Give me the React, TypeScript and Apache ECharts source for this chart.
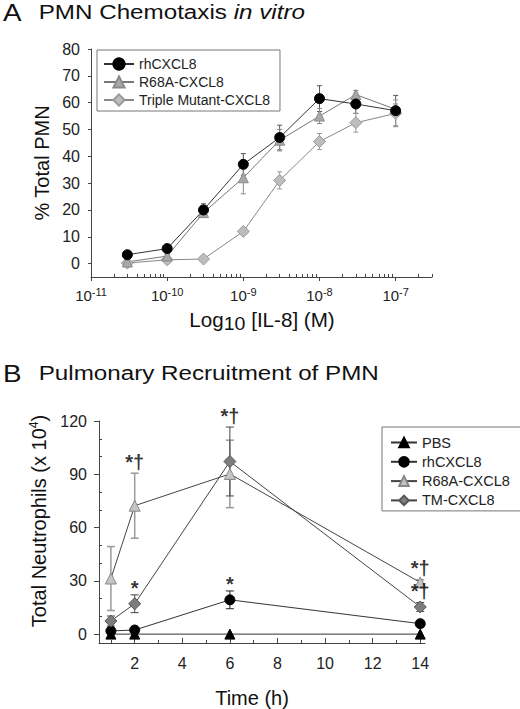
import { useEffect, useRef } from 'react';
import * as echarts from 'echarts';

const FONT = '"Liberation Sans", Arial, Helvetica, sans-serif';

// Panel A: chemotaxis vs concentration (M)
const concA = [3e-11, 1e-10, 3e-10, 1e-9, 3e-9, 1e-8, 3e-8, 1e-7];
const rhA = [3.3, 5.6, 20, 37, 47, 61.5, 59.5, 57];
const rhAErr = [0.8, 0.8, 2.3, 4, 4.6, 4.8, 3.5, 5.7];
const r68A = [0.6, 2.8, 19, 32, 46, 55, 63, 57.5];
const r68AErr = [0.5, 0.6, 1, 6, 4, 2.8, 1.5, 2];
const tmA = [0.2, 1.4, 1.7, 12, 31, 45.5, 52.5, 56];
const tmAErr = [0.4, 0.5, 0.5, 1, 3.2, 3, 3.5, 5];
const yTicksA = [0, 10, 20, 30, 40, 50, 60, 70, 80];
const xExpA = [-11, -10, -9, -8, -7];

// Panel B: pulmonary recruitment over time (h)
const hoursB = [1, 2, 6, 14];
const pbsB = [0, 0, 0, 0];
const rhB = [1.8, 2.3, 19.3, 5.9];
const rhBErr = [1, 1, 5, 1];
const r68B = [31.3, 72.3, 90.2, 29.1];
const r68BErr = [18, 18.3, 19, 1.5];
const tmB = [7.4, 17.1, 97.2, 15.3];
const tmBErr = [2.8, 5, 19.4, 2.5];
const yTicksB = [0, 30, 60, 90, 120];
const yMinorB = [10, 20, 40, 50, 70, 80, 100, 110];
const xTicksB = [2, 4, 6, 8, 10, 12, 14];
const xMinorB = [1, 3, 5, 7, 9, 11, 13];
const annoX = [2, 2, 6, 6, 14, 14];
const annoY = [90.3, 22.1, 116.6, 24.3, 30.6, 17.8];
const annoText = ['*†', '*', '*†', '*', '*†', '*†'];

function minorLogTicks(): number[] {
  const out: number[] = [];
  for (let n = -11; n <= -7; n++) {
    for (let k = 2; k <= 9; k++) {
      const v = Math.log10(k) + n;
      if (v <= Math.log10(3e-7) + 1e-9) out.push(v);
    }
  }
  return out;
}

function errorSeries(
  xs: number[], vals: number[], errs: number[], color: string,
  xAxisIndex: number, yAxisIndex: number, cap: number, lw: number
): any {
  return {
    type: 'custom',
    xAxisIndex,
    yAxisIndex,
    z: 1,
    silent: true,
    encode: { x: 0, y: [1, 2] },
    data: xs.map((x, i) => [x, vals[i] - errs[i], vals[i] + errs[i]]),
    renderItem: (params: any, api: any) => {
      const top = api.coord([api.value(0), api.value(2)]);
      const bot = api.coord([api.value(0), api.value(1)]);
      const st = { stroke: color, lineWidth: lw };
      return {
        type: 'group',
        children: [
          { type: 'line', shape: { x1: top[0], y1: top[1], x2: bot[0], y2: bot[1] }, style: st },
          { type: 'line', shape: { x1: top[0] - cap, y1: top[1], x2: top[0] + cap, y2: top[1] }, style: st },
          { type: 'line', shape: { x1: bot[0] - cap, y1: bot[1], x2: bot[0] + cap, y2: bot[1] }, style: st }
        ]
      };
    }
  };
}

function lineSeries(
  name: string, xs: number[], vals: number[], symbol: string, size: number,
  fill: string, border: string, lineColor: string, xAxisIndex: number, yAxisIndex: number
): any {
  return {
    name,
    type: 'line',
    xAxisIndex,
    yAxisIndex,
    z: 3,
    symbol,
    symbolSize: size,
    showAllSymbol: true,
    data: xs.map((x, i) => [x, vals[i]]),
    lineStyle: { color: lineColor, width: 1 },
    itemStyle: { color: fill, borderColor: border, borderWidth: 1 }
  };
}

function buildOption(): echarts.EChartsOption {
  const AXIS = '#444';
  const xA = concA.map((c) => Math.log10(c));
  const labelStyle = { fontFamily: FONT, fontSize: 16, color: '#222' };

  return {
    animation: false,
    textStyle: { fontFamily: FONT },
    grid: [
      { left: 91, top: 49, width: 341, height: 228 },
      { left: 99, top: 421, width: 326, height: 226 }
    ],
    graphic: [
      {
        type: 'text', x: 3, y: 1, scaleX: 1.21,
        style: {
          text: '{l|A}{g|   }{t|PMN Chemotaxis }{i|in vitro}',
          rich: {
            l: { fontFamily: FONT, fontSize: 23, fill: '#111' },
            g: { fontFamily: FONT, fontSize: 17, fill: '#111' },
            t: { fontFamily: FONT, fontSize: 20, fill: '#111' },
            i: { fontFamily: FONT, fontSize: 20, fontStyle: 'italic', fill: '#111' }
          }
        }
      },
      {
        type: 'text', x: 3, y: 362, scaleX: 1.21,
        style: {
          text: '{l|B}{g|   }{t|Pulmonary Recruitment of PMN}',
          rich: {
            l: { fontFamily: FONT, fontSize: 23, fill: '#111' },
            g: { fontFamily: FONT, fontSize: 17, fill: '#111' },
            t: { fontFamily: FONT, fontSize: 20, fill: '#111' }
          }
        }
      },
      {
        type: 'text', x: 42, y: 163, rotation: Math.PI / 2,
        style: {
          text: '% Total PMN', align: 'center', verticalAlign: 'middle',
          fontFamily: FONT, fontSize: 20, fill: '#111'
        }
      },
      {
        type: 'text', x: 262, y: 320, scaleX: 1.03,
        style: {
          text: '{n|Log}{d|10}{n| [IL-8] (M)}', align: 'center', verticalAlign: 'middle',
          rich: {
            n: { fontFamily: FONT, fontSize: 20, fill: '#111' },
            d: { fontFamily: FONT, fontSize: 19, fill: '#111', padding: [8, 0, 0, 0] }
          }
        }
      }
    ],
    legend: [
      {
        data: ['rhCXCL8', 'R68A-CXCL8', 'Triple Mutant-CXCL8'],
        orient: 'vertical', left: 97, top: 50,
        itemWidth: 30, itemHeight: 14, itemGap: 4,
        padding: [7, 10, 4, 6],
        borderColor: '#777', borderWidth: 1,
        textStyle: { fontFamily: FONT, fontSize: 14, color: '#222' }
      },
      {
        data: ['PBS', 'rhCXCL8 ', 'R68A-CXCL8 ', 'TM-CXCL8'],
        orient: 'vertical', left: 382, top: 427,
        itemWidth: 26, itemHeight: 12, itemGap: 4.3,
        padding: [8, 8, 3, 8],
        borderColor: '#777', borderWidth: 1,
        textStyle: { fontFamily: FONT, fontSize: 14.5, color: '#222' }
      }
    ],
    xAxis: [
      {
        type: 'value', gridIndex: 0, min: -11, max: Math.log10(3e-7), position: 'bottom',
        axisLine: { onZero: false, lineStyle: { color: AXIS } },
        axisTick: { customValues: xExpA, length: 4, lineStyle: { color: AXIS } },
        splitLine: { show: false },
        axisLabel: {
          customValues: xExpA, margin: 9,
          formatter: (v: number) => `{b|10}{s|${Math.round(v)}}`,
          rich: {
            b: { ...labelStyle, fontSize: 15 },
            s: { ...labelStyle, fontSize: 11, padding: [0, 0, 8, 0] }
          }
        }
      },
      {
        type: 'value', gridIndex: 0, min: -11, max: Math.log10(3e-7), position: 'bottom',
        axisLine: { show: false, onZero: false },
        axisTick: { customValues: minorLogTicks(), inside: true, length: 3, lineStyle: { color: AXIS } },
        axisLabel: { show: false },
        splitLine: { show: false }
      },
      {
        type: 'value', gridIndex: 1, min: 0.5, max: 14.2, position: 'bottom',
        axisLine: { onZero: false, lineStyle: { color: AXIS } },
        axisTick: { customValues: xTicksB, inside: true, length: 5, lineStyle: { color: AXIS } },
        splitLine: { show: false },
        axisLabel: { customValues: xTicksB, margin: 12, ...labelStyle },
        name: 'Time (h)', nameLocation: 'middle', nameGap: 45,
        nameTextStyle: { fontFamily: FONT, fontSize: 20, color: '#111', padding: [0, 20, 0, 0] }
      },
      {
        type: 'value', gridIndex: 1, min: 0.5, max: 14.2, position: 'bottom',
        axisLine: { show: false, onZero: false },
        axisTick: { customValues: xMinorB, inside: true, length: 3, lineStyle: { color: AXIS } },
        axisLabel: { show: false },
        splitLine: { show: false }
      }
    ],
    yAxis: [
      {
        type: 'value', gridIndex: 0, min: -5, max: 80, position: 'left',
        axisLine: { show: true, onZero: false, lineStyle: { color: AXIS } },
        axisTick: { show: true, customValues: yTicksA, length: 3, lineStyle: { color: AXIS } },
        splitLine: { show: false },
        axisLabel: { customValues: yTicksA, margin: 11, ...labelStyle }
      },
      {
        type: 'value', gridIndex: 1, min: -5, max: 120, position: 'left',
        axisLine: { show: true, onZero: false, lineStyle: { color: AXIS } },
        axisTick: { show: true, customValues: yTicksB, length: 5, lineStyle: { color: AXIS } },
        splitLine: { show: false },
        axisLabel: { customValues: yTicksB, margin: 12, ...labelStyle },
        name: '{n|Total Neutrophils (x 10}{s|4}{n|)}', nameLocation: 'middle', nameGap: 47,
        nameTextStyle: {
          padding: [0, 0, 0, 22],
          rich: {
            n: { fontFamily: FONT, fontSize: 20, color: '#111' },
            s: { fontFamily: FONT, fontSize: 12, color: '#111', padding: [0, 0, 10, 0] }
          }
        }
      },
      {
        type: 'value', gridIndex: 1, min: -5, max: 120, position: 'left',
        axisLine: { show: false, onZero: false },
        axisTick: { show: true, customValues: yMinorB, inside: true, length: 3, lineStyle: { color: AXIS } },
        axisLabel: { show: false },
        splitLine: { show: false }
      }
    ],
    series: [
      // Panel A
      errorSeries(xA, rhA, rhAErr, '#555', 0, 0, 2.5, 1),
      errorSeries(xA, r68A, r68AErr, '#888', 0, 0, 2.5, 1),
      errorSeries(xA, tmA, tmAErr, '#999', 0, 0, 2.5, 1),
      lineSeries('Triple Mutant-CXCL8', xA, tmA, 'diamond', 12, '#bdbdbd', '#999', '#888', 0, 0),
      lineSeries('R68A-CXCL8', xA, r68A, 'triangle', 10, '#a8a8a8', '#8a8a8a', '#777', 0, 0),
      lineSeries('rhCXCL8', xA, rhA, 'circle', 10, '#000', '#000', '#333', 0, 0),
      // Panel B
      errorSeries(hoursB, r68B, r68BErr, '#9a9a9a', 2, 1, 4, 1.5),
      errorSeries(hoursB, tmB, tmBErr, '#444', 2, 1, 4, 1),
      errorSeries(hoursB, rhB, rhBErr, '#222', 2, 1, 4, 1),
      lineSeries('PBS', hoursB, pbsB, 'triangle', 10, '#000', '#000', '#333', 2, 1),
      lineSeries('rhCXCL8 ', hoursB, rhB, 'circle', 10, '#000', '#000', '#333', 2, 1),
      lineSeries('R68A-CXCL8 ', hoursB, r68B, 'triangle', 11, '#c4c4c4', '#888', '#444', 2, 1),
      lineSeries('TM-CXCL8', hoursB, tmB, 'diamond', 12, '#7d7d7d', '#555', '#444', 2, 1),
      {
        type: 'scatter',
        xAxisIndex: 2,
        yAxisIndex: 1,
        z: 4,
        silent: true,
        symbolSize: 1,
        itemStyle: { color: 'rgba(0,0,0,0)' },
        data: annoX.map((x, i) => ({
          value: [x, annoY[i]],
          name: annoText[i],
          label: annoText[i] === '*' ? { offset: [0, 5] } : undefined
        })),
        label: {
          show: true,
          position: 'top',
          distance: 1,
          formatter: (p: any) => p.name,
          fontFamily: FONT,
          fontSize: 20,
          fontWeight: 'bold',
          color: '#000'
        }
      }
    ]
  };
}

export default function App() {
  const ref = useRef<HTMLDivElement | null>(null);

  useEffect(() => {
    if (!ref.current) return;
    const chart = echarts.init(ref.current, undefined, { renderer: 'svg' });
    chart.setOption(buildOption());
    return () => {
      chart.dispose();
    };
  }, []);

  return (
    <div
      ref={ref}
      style={{ position: 'absolute', left: 0, top: 0, width: 520, height: 709, background: '#fff' }}
    />
  );
}
